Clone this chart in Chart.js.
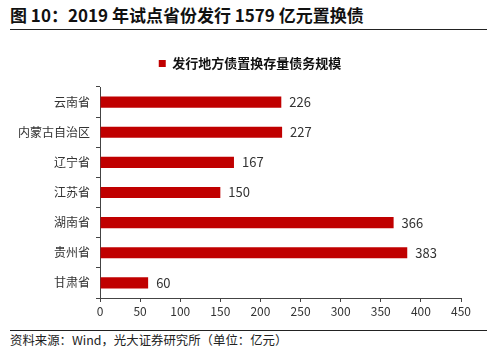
<!DOCTYPE html>
<html>
<head>
<meta charset="utf-8">
<script src="https://cdn.jsdelivr.net/npm/chart.js@4/dist/chart.umd.min.js"></script>
<style>
    html, body { margin: 0; padding: 0; background: #fff; }
    body { width: 500px; height: 351px; position: relative; overflow: hidden; font-family: "Noto Sans CJK SC", sans-serif; }
    .title { position: absolute; left: 10px; top: 3px; font-size: 17px; font-weight: bold; color: #111; line-height: 24px; }
    .rule { position: absolute; left: 10px; width: 477px; height: 0; border-top: 1px solid #222; }
    .source { position: absolute; left: 10px; top: 331px; font-size: 12.4px; color: #222; line-height: 18px; }
    .box { position: absolute; left: 0; top: 40px; width: 500px; height: 285px; }
</style>
</head>
<body>
<div class="title">图 10：2019 年试点省份发行 1579 亿元置换债</div>
<div class="rule" style="top:29px"></div>
<div class="box"><canvas id="chart"></canvas></div>
<div class="rule" style="top:330px"></div>
<div class="source">资料来源：Wind，光大证券研究所（单位：亿元）</div>
<script>
// 数据
const aCategories = ["云南省", "内蒙古自治区", "辽宁省", "江苏省", "湖南省", "贵州省", "甘肃省"];
const aValues = [226, 227, 167, 150, 366, 383, 60];
const sSeriesName = "发行地方债置换存量债务规模";
const aXTicks = [0, 50, 100, 150, 200, 250, 300, 350, 400, 450];

const sFont = "'Noto Sans CJK SC', sans-serif";

// 막대 끝 값 표시
const valueLabels = {
    id: "valueLabels",
    afterDatasetsDraw: function (chart) {
        const ctx = chart.ctx;
        const oMeta = chart.getDatasetMeta(0);
        ctx.save();
        ctx.font = "13px " + sFont;
        ctx.fillStyle = "#333";
        ctx.textAlign = "left";
        ctx.textBaseline = "middle";
        oMeta.data.forEach(function (oBar, i) {
            ctx.fillText(String(aValues[i]), oBar.x + 8, oBar.y);
        });
        ctx.restore();
    }
};

// 범례 아래 여백
const legendGap = {
    id: "legendGap",
    beforeInit: function (chart) {
        const fnFit = chart.legend.fit;
        chart.legend.fit = function () {
            fnFit.call(this);
            this.height += 7;
        };
    }
};

new Chart(document.getElementById("chart"), {
    type: "bar",
    plugins: [valueLabels, legendGap],
    data: {
        labels: aCategories,
        datasets: [{
            label: sSeriesName,
            data: aValues,
            backgroundColor: "#C00000",
            borderWidth: 0,
            barPercentage: 0.37,
            categoryPercentage: 1
        }]
    },
    options: {
        indexAxis: "y",
        responsive: true,
        maintainAspectRatio: false,
        animation: false,
        layout: { padding: { left: 0, right: 0, top: 0, bottom: 0 } },
        plugins: {
            tooltip: { enabled: false },
            legend: {
                display: true,
                position: "top",
                labels: {
                    boxWidth: 7,
                    boxHeight: 7,
                    padding: 17,
                    color: "#111",
                    font: { family: sFont, size: 13, weight: "bold" }
                }
            }
        },
        scales: {
            x: {
                min: 0,
                max: 450,
                afterBuildTicks: function (scale) {
                    scale.ticks = aXTicks.map(function (v) { return { value: v }; });
                },
                afterFit: function (scale) { scale.height = 27; },
                grid: { display: true, drawOnChartArea: false, drawTicks: true, tickLength: 4, color: "#444" },
                border: { display: true, color: "#444", width: 1 },
                ticks: { color: "#333", padding: 2, font: { family: sFont, size: 12 } }
            },
            y: {
                afterFit: function (scale) { scale.width = 100; },
                grid: { display: true, drawOnChartArea: false, drawTicks: true, tickLength: 4, color: "#444", offset: true },
                border: { display: true, color: "#444", width: 1 },
                ticks: { color: "#333", padding: 6, font: { family: sFont, size: 12 } }
            },
            // 오른쪽 여백용 빈 축
            yRight: {
                type: "linear",
                axis: "y",
                position: "right",
                afterFit: function (scale) { scale.width = 39; },
                grid: { display: false },
                border: { display: false },
                ticks: { display: false }
            }
        }
    }
});
</script>
</body>
</html>
